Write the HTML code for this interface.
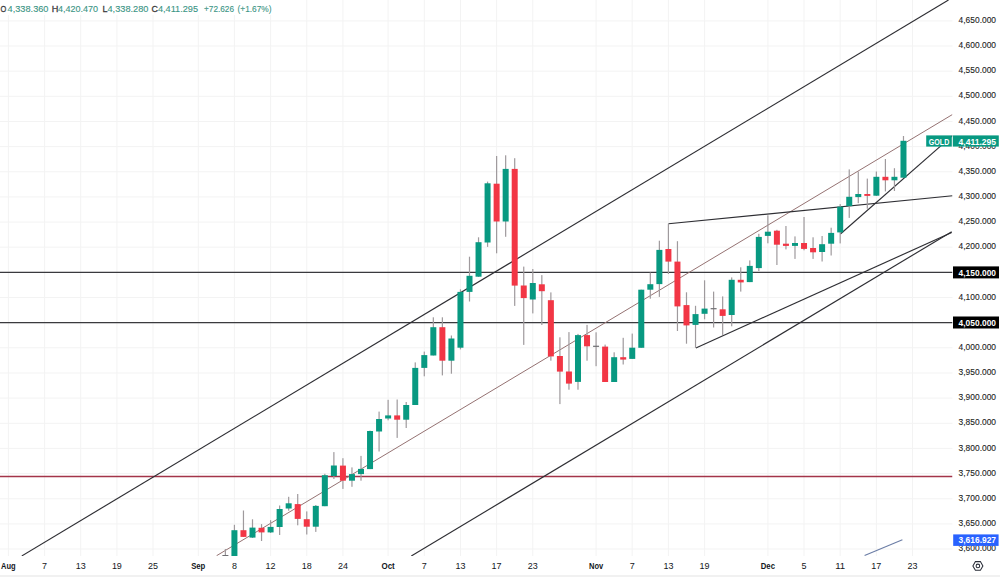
<!DOCTYPE html>
<html><head><meta charset="utf-8"><style>
html,body{margin:0;padding:0;background:#fff;width:1000px;height:577px;overflow:hidden}
svg{display:block}
text{font-family:"Liberation Sans",sans-serif}
</style></head><body>
<svg width="1000" height="577" viewBox="0 0 1000 577">
<rect x="0" y="0" width="1000" height="577" fill="#ffffff"/>
<path d="M8.4 0V556 M44.6 0V556 M80.7 0V556 M116.9 0V556 M153.0 0V556 M198.3 0V556 M234.4 0V556 M270.6 0V556 M306.8 0V556 M342.9 0V556 M388.1 0V556 M424.3 0V556 M460.5 0V556 M496.6 0V556 M532.8 0V556 M596.1 0V556 M632.2 0V556 M668.4 0V556 M704.6 0V556 M767.9 0V556 M804.0 0V556 M840.2 0V556 M876.4 0V556 M912.5 0V556 M0 549.0H952.5 M0 523.9H952.5 M0 498.8H952.5 M0 473.6H952.5 M0 448.4H952.5 M0 423.3H952.5 M0 398.1H952.5 M0 373.0H952.5 M0 347.8H952.5 M0 322.7H952.5 M0 297.5H952.5 M0 272.4H952.5 M0 247.2H952.5 M0 222.1H952.5 M0 196.9H952.5 M0 171.8H952.5 M0 146.6H952.5 M0 121.5H952.5 M0 96.3H952.5 M0 71.2H952.5 M0 46.0H952.5 M0 20.9H952.5" stroke="#f3f3f3" stroke-width="1" fill="none"/>
<defs><clipPath id="pane"><rect x="0" y="0" width="952.5" height="556"/></clipPath></defs>
<g clip-path="url(#pane)">
<path d="M0 272.4H952.5M0 322.6H952.5" stroke="#3a3a3e" stroke-width="1.3" fill="none"/>
<path d="M0 476.5H952.5" stroke="#a33449" stroke-width="1.7" fill="none"/>
<line x1="216.6" y1="555.7" x2="952.3" y2="114.6" stroke="#957272" stroke-width="1.0"/>
<line x1="21.8" y1="555.9" x2="948.5" y2="0.0" stroke="#2e2e33" stroke-width="1.15"/>
<line x1="411.3" y1="556.0" x2="951.7" y2="231.7" stroke="#2e2e33" stroke-width="1.15"/>
<line x1="668.5" y1="223.8" x2="952.5" y2="195.8" stroke="#2e2e33" stroke-width="1.15"/>
<line x1="695.9" y1="347.9" x2="951.7" y2="232.5" stroke="#2e2e33" stroke-width="1.15"/>
<line x1="840.4" y1="234.0" x2="952.5" y2="135.6" stroke="#2e2e33" stroke-width="1.15"/>
<line x1="864.6" y1="555.5" x2="902.4" y2="539.8" stroke="#6b7da6" stroke-width="1.1"/>
<rect x="224.78" y="549.0" width="1.2" height="7.0" fill="#9f9a9d"/><rect x="233.82" y="524.8" width="1.2" height="31.2" fill="#9f9a9d"/><rect x="242.86" y="510.5" width="1.2" height="26.5" fill="#9f9a9d"/><rect x="251.90" y="519.3" width="1.2" height="18.7" fill="#9f9a9d"/><rect x="260.94" y="524.1" width="1.2" height="16.9" fill="#9f9a9d"/><rect x="269.99" y="520.2" width="1.2" height="12.8" fill="#9f9a9d"/><rect x="279.03" y="505.5" width="1.2" height="29.5" fill="#9f9a9d"/><rect x="288.07" y="496.8" width="1.2" height="13.9" fill="#9f9a9d"/><rect x="297.11" y="494.0" width="1.2" height="31.3" fill="#9f9a9d"/><rect x="306.15" y="511.4" width="1.2" height="23.1" fill="#9f9a9d"/><rect x="315.19" y="505.0" width="1.2" height="26.9" fill="#9f9a9d"/><rect x="324.23" y="473.8" width="1.2" height="32.4" fill="#9f9a9d"/><rect x="333.28" y="452.1" width="1.2" height="26.9" fill="#9f9a9d"/><rect x="342.32" y="458.2" width="1.2" height="30.7" fill="#9f9a9d"/><rect x="351.36" y="467.4" width="1.2" height="19.4" fill="#9f9a9d"/><rect x="360.40" y="455.9" width="1.2" height="24.8" fill="#9f9a9d"/><rect x="369.44" y="430.6" width="1.2" height="38.5" fill="#9f9a9d"/><rect x="378.48" y="411.6" width="1.2" height="39.9" fill="#9f9a9d"/><rect x="387.52" y="399.8" width="1.2" height="20.5" fill="#9f9a9d"/><rect x="396.57" y="399.5" width="1.2" height="38.4" fill="#9f9a9d"/><rect x="405.61" y="402.0" width="1.2" height="26.0" fill="#9f9a9d"/><rect x="414.65" y="362.4" width="1.2" height="42.6" fill="#9f9a9d"/><rect x="423.69" y="351.6" width="1.2" height="24.7" fill="#9f9a9d"/><rect x="432.73" y="317.3" width="1.2" height="38.2" fill="#9f9a9d"/><rect x="441.77" y="317.3" width="1.2" height="58.1" fill="#9f9a9d"/><rect x="450.81" y="335.5" width="1.2" height="38.2" fill="#9f9a9d"/><rect x="459.85" y="289.3" width="1.2" height="60.1" fill="#9f9a9d"/><rect x="468.90" y="256.7" width="1.2" height="44.8" fill="#9f9a9d"/><rect x="477.94" y="237.3" width="1.2" height="39.7" fill="#9f9a9d"/><rect x="486.98" y="181.6" width="1.2" height="65.3" fill="#9f9a9d"/><rect x="496.02" y="156.0" width="1.2" height="97.3" fill="#9f9a9d"/><rect x="505.06" y="155.3" width="1.2" height="81.5" fill="#9f9a9d"/><rect x="514.10" y="158.2" width="1.2" height="147.7" fill="#9f9a9d"/><rect x="523.14" y="266.6" width="1.2" height="78.3" fill="#9f9a9d"/><rect x="532.19" y="269.0" width="1.2" height="44.4" fill="#9f9a9d"/><rect x="541.23" y="275.1" width="1.2" height="49.9" fill="#9f9a9d"/><rect x="550.27" y="292.4" width="1.2" height="68.3" fill="#9f9a9d"/><rect x="559.31" y="337.3" width="1.2" height="66.8" fill="#9f9a9d"/><rect x="568.35" y="332.1" width="1.2" height="57.6" fill="#9f9a9d"/><rect x="577.39" y="333.9" width="1.2" height="55.8" fill="#9f9a9d"/><rect x="586.43" y="324.9" width="1.2" height="35.8" fill="#9f9a9d"/><rect x="595.48" y="332.3" width="1.2" height="33.9" fill="#9f9a9d"/><rect x="604.52" y="344.6" width="1.2" height="37.4" fill="#9f9a9d"/><rect x="613.56" y="352.3" width="1.2" height="29.7" fill="#9f9a9d"/><rect x="622.60" y="337.8" width="1.2" height="26.7" fill="#9f9a9d"/><rect x="631.64" y="333.6" width="1.2" height="25.3" fill="#9f9a9d"/><rect x="640.68" y="289.7" width="1.2" height="58.1" fill="#9f9a9d"/><rect x="649.72" y="272.5" width="1.2" height="26.2" fill="#9f9a9d"/><rect x="658.77" y="240.7" width="1.2" height="56.2" fill="#9f9a9d"/><rect x="667.81" y="223.8" width="1.2" height="50.2" fill="#9f9a9d"/><rect x="676.85" y="241.2" width="1.2" height="89.8" fill="#9f9a9d"/><rect x="685.89" y="292.3" width="1.2" height="51.4" fill="#9f9a9d"/><rect x="694.93" y="305.8" width="1.2" height="42.1" fill="#9f9a9d"/><rect x="703.97" y="280.3" width="1.2" height="39.0" fill="#9f9a9d"/><rect x="713.01" y="291.6" width="1.2" height="35.9" fill="#9f9a9d"/><rect x="722.06" y="296.4" width="1.2" height="38.5" fill="#9f9a9d"/><rect x="731.10" y="277.4" width="1.2" height="48.9" fill="#9f9a9d"/><rect x="740.14" y="267.3" width="1.2" height="24.3" fill="#9f9a9d"/><rect x="749.18" y="260.4" width="1.2" height="21.7" fill="#9f9a9d"/><rect x="758.22" y="233.8" width="1.2" height="37.2" fill="#9f9a9d"/><rect x="767.26" y="215.3" width="1.2" height="28.0" fill="#9f9a9d"/><rect x="776.30" y="229.8" width="1.2" height="35.2" fill="#9f9a9d"/><rect x="785.35" y="226.0" width="1.2" height="23.4" fill="#9f9a9d"/><rect x="794.39" y="236.4" width="1.2" height="22.5" fill="#9f9a9d"/><rect x="803.43" y="217.0" width="1.2" height="33.3" fill="#9f9a9d"/><rect x="812.47" y="237.3" width="1.2" height="21.6" fill="#9f9a9d"/><rect x="821.51" y="236.0" width="1.2" height="25.5" fill="#9f9a9d"/><rect x="830.55" y="227.7" width="1.2" height="27.8" fill="#9f9a9d"/><rect x="839.59" y="204.1" width="1.2" height="39.3" fill="#9f9a9d"/><rect x="848.64" y="169.4" width="1.2" height="48.5" fill="#9f9a9d"/><rect x="857.68" y="171.5" width="1.2" height="31.7" fill="#9f9a9d"/><rect x="866.72" y="178.6" width="1.2" height="30.1" fill="#9f9a9d"/><rect x="875.76" y="171.5" width="1.2" height="24.5" fill="#9f9a9d"/><rect x="884.80" y="159.0" width="1.2" height="32.4" fill="#9f9a9d"/><rect x="893.84" y="168.2" width="1.2" height="22.8" fill="#9f9a9d"/><rect x="902.88" y="136.0" width="1.2" height="41.7" fill="#9f9a9d"/>
<rect x="222.38" y="555.0" width="6" height="1.2" fill="#6e6e72"/><rect x="231.42" y="530.2" width="6" height="25.8" fill="#089981"/><rect x="240.46" y="530.2" width="6" height="6.7" fill="#f23645"/><rect x="249.50" y="527.6" width="6" height="10.0" fill="#089981"/><rect x="258.54" y="527.8" width="6" height="4.6" fill="#f23645"/><rect x="267.59" y="526.9" width="6" height="5.5" fill="#089981"/><rect x="276.63" y="509.0" width="6" height="18.0" fill="#089981"/><rect x="285.67" y="503.3" width="6" height="5.2" fill="#089981"/><rect x="294.71" y="504.1" width="6" height="14.8" fill="#f23645"/><rect x="303.75" y="519.2" width="6" height="7.5" fill="#f23645"/><rect x="312.79" y="505.9" width="6" height="20.8" fill="#089981"/><rect x="321.83" y="475.2" width="6" height="31.0" fill="#089981"/><rect x="330.88" y="465.5" width="6" height="10.5" fill="#089981"/><rect x="339.92" y="465.6" width="6" height="15.1" fill="#f23645"/><rect x="348.96" y="474.1" width="6" height="6.6" fill="#089981"/><rect x="358.00" y="468.9" width="6" height="5.2" fill="#089981"/><rect x="367.04" y="431.0" width="6" height="38.1" fill="#089981"/><rect x="376.08" y="419.0" width="6" height="12.5" fill="#089981"/><rect x="385.12" y="415.4" width="6" height="3.1" fill="#089981"/><rect x="394.17" y="415.4" width="6" height="4.3" fill="#f23645"/><rect x="403.21" y="405.0" width="6" height="14.7" fill="#089981"/><rect x="412.25" y="367.9" width="6" height="37.1" fill="#089981"/><rect x="421.29" y="355.1" width="6" height="12.8" fill="#089981"/><rect x="430.33" y="327.2" width="6" height="28.3" fill="#089981"/><rect x="439.37" y="327.2" width="6" height="33.5" fill="#f23645"/><rect x="448.41" y="338.5" width="6" height="22.2" fill="#089981"/><rect x="457.45" y="291.9" width="6" height="55.8" fill="#089981"/><rect x="466.50" y="275.8" width="6" height="16.1" fill="#089981"/><rect x="475.54" y="242.2" width="6" height="34.5" fill="#089981"/><rect x="484.58" y="183.3" width="6" height="59.2" fill="#089981"/><rect x="493.62" y="183.7" width="6" height="37.8" fill="#f23645"/><rect x="502.66" y="168.9" width="6" height="52.6" fill="#089981"/><rect x="511.70" y="168.9" width="6" height="116.7" fill="#f23645"/><rect x="520.74" y="285.5" width="6" height="12.6" fill="#f23645"/><rect x="529.79" y="283.0" width="6" height="16.5" fill="#089981"/><rect x="538.83" y="284.3" width="6" height="6.9" fill="#f23645"/><rect x="547.87" y="300.2" width="6" height="56.2" fill="#f23645"/><rect x="556.91" y="356.0" width="6" height="15.6" fill="#f23645"/><rect x="565.95" y="371.5" width="6" height="12.1" fill="#f23645"/><rect x="574.99" y="335.1" width="6" height="46.8" fill="#089981"/><rect x="584.03" y="335.1" width="6" height="11.2" fill="#f23645"/><rect x="593.08" y="345.7" width="6" height="1.2" fill="#6e6e72"/><rect x="602.12" y="346.6" width="6" height="35.4" fill="#f23645"/><rect x="611.16" y="357.2" width="6" height="24.8" fill="#089981"/><rect x="620.20" y="357.2" width="6" height="2.4" fill="#f23645"/><rect x="629.24" y="347.7" width="6" height="11.2" fill="#089981"/><rect x="638.28" y="289.7" width="6" height="58.1" fill="#089981"/><rect x="647.32" y="284.2" width="6" height="5.5" fill="#089981"/><rect x="656.37" y="249.9" width="6" height="34.2" fill="#089981"/><rect x="665.41" y="249.0" width="6" height="12.6" fill="#f23645"/><rect x="674.45" y="261.6" width="6" height="44.8" fill="#f23645"/><rect x="683.49" y="305.1" width="6" height="20.3" fill="#f23645"/><rect x="692.53" y="314.1" width="6" height="10.8" fill="#089981"/><rect x="701.57" y="308.6" width="6" height="5.2" fill="#089981"/><rect x="710.61" y="308.1" width="6" height="1.2" fill="#6e6e72"/><rect x="719.66" y="309.3" width="6" height="6.6" fill="#f23645"/><rect x="728.70" y="279.8" width="6" height="35.2" fill="#089981"/><rect x="737.74" y="279.8" width="6" height="2.6" fill="#f23645"/><rect x="746.78" y="265.9" width="6" height="16.2" fill="#089981"/><rect x="755.82" y="236.9" width="6" height="31.2" fill="#089981"/><rect x="764.86" y="231.7" width="6" height="4.2" fill="#089981"/><rect x="773.90" y="230.7" width="6" height="14.0" fill="#f23645"/><rect x="782.95" y="243.7" width="6" height="2.2" fill="#f23645"/><rect x="791.99" y="243.0" width="6" height="2.9" fill="#089981"/><rect x="801.03" y="243.0" width="6" height="5.9" fill="#f23645"/><rect x="810.07" y="248.0" width="6" height="4.3" fill="#f23645"/><rect x="819.11" y="244.2" width="6" height="7.8" fill="#089981"/><rect x="828.15" y="232.9" width="6" height="10.8" fill="#089981"/><rect x="837.19" y="206.7" width="6" height="25.7" fill="#089981"/><rect x="846.24" y="196.8" width="6" height="9.3" fill="#089981"/><rect x="855.28" y="194.0" width="6" height="3.1" fill="#089981"/><rect x="864.32" y="194.0" width="6" height="1.9" fill="#f23645"/><rect x="873.36" y="176.8" width="6" height="18.9" fill="#089981"/><rect x="882.40" y="176.8" width="6" height="3.5" fill="#f23645"/><rect x="891.44" y="176.8" width="6" height="3.5" fill="#089981"/><rect x="900.48" y="140.8" width="6" height="36.9" fill="#089981"/>
</g>
<text x="958.60" y="551.15" font-size="9.7" fill="#1e1f24" font-weight="normal" text-anchor="start" textLength="37.4" lengthAdjust="spacingAndGlyphs" stroke="#1e1f24" stroke-width="0.12">3,600.000</text>
<text x="958.60" y="526.00" font-size="9.7" fill="#1e1f24" font-weight="normal" text-anchor="start" textLength="37.4" lengthAdjust="spacingAndGlyphs" stroke="#1e1f24" stroke-width="0.12">3,650.000</text>
<text x="958.60" y="500.85" font-size="9.7" fill="#1e1f24" font-weight="normal" text-anchor="start" textLength="37.4" lengthAdjust="spacingAndGlyphs" stroke="#1e1f24" stroke-width="0.12">3,700.000</text>
<text x="958.60" y="475.70" font-size="9.7" fill="#1e1f24" font-weight="normal" text-anchor="start" textLength="37.4" lengthAdjust="spacingAndGlyphs" stroke="#1e1f24" stroke-width="0.12">3,750.000</text>
<text x="958.60" y="450.55" font-size="9.7" fill="#1e1f24" font-weight="normal" text-anchor="start" textLength="37.4" lengthAdjust="spacingAndGlyphs" stroke="#1e1f24" stroke-width="0.12">3,800.000</text>
<text x="958.60" y="425.40" font-size="9.7" fill="#1e1f24" font-weight="normal" text-anchor="start" textLength="37.4" lengthAdjust="spacingAndGlyphs" stroke="#1e1f24" stroke-width="0.12">3,850.000</text>
<text x="958.60" y="400.25" font-size="9.7" fill="#1e1f24" font-weight="normal" text-anchor="start" textLength="37.4" lengthAdjust="spacingAndGlyphs" stroke="#1e1f24" stroke-width="0.12">3,900.000</text>
<text x="958.60" y="375.10" font-size="9.7" fill="#1e1f24" font-weight="normal" text-anchor="start" textLength="37.4" lengthAdjust="spacingAndGlyphs" stroke="#1e1f24" stroke-width="0.12">3,950.000</text>
<text x="958.60" y="349.95" font-size="9.7" fill="#1e1f24" font-weight="normal" text-anchor="start" textLength="37.4" lengthAdjust="spacingAndGlyphs" stroke="#1e1f24" stroke-width="0.12">4,000.000</text>
<text x="958.60" y="299.65" font-size="9.7" fill="#1e1f24" font-weight="normal" text-anchor="start" textLength="37.4" lengthAdjust="spacingAndGlyphs" stroke="#1e1f24" stroke-width="0.12">4,100.000</text>
<text x="958.60" y="249.35" font-size="9.7" fill="#1e1f24" font-weight="normal" text-anchor="start" textLength="37.4" lengthAdjust="spacingAndGlyphs" stroke="#1e1f24" stroke-width="0.12">4,200.000</text>
<text x="958.60" y="224.20" font-size="9.7" fill="#1e1f24" font-weight="normal" text-anchor="start" textLength="37.4" lengthAdjust="spacingAndGlyphs" stroke="#1e1f24" stroke-width="0.12">4,250.000</text>
<text x="958.60" y="199.05" font-size="9.7" fill="#1e1f24" font-weight="normal" text-anchor="start" textLength="37.4" lengthAdjust="spacingAndGlyphs" stroke="#1e1f24" stroke-width="0.12">4,300.000</text>
<text x="958.60" y="173.90" font-size="9.7" fill="#1e1f24" font-weight="normal" text-anchor="start" textLength="37.4" lengthAdjust="spacingAndGlyphs" stroke="#1e1f24" stroke-width="0.12">4,350.000</text>
<text x="958.60" y="148.75" font-size="9.7" fill="#1e1f24" font-weight="normal" text-anchor="start" textLength="37.4" lengthAdjust="spacingAndGlyphs" stroke="#1e1f24" stroke-width="0.12">4,400.000</text>
<text x="958.60" y="123.60" font-size="9.7" fill="#1e1f24" font-weight="normal" text-anchor="start" textLength="37.4" lengthAdjust="spacingAndGlyphs" stroke="#1e1f24" stroke-width="0.12">4,450.000</text>
<text x="958.60" y="98.45" font-size="9.7" fill="#1e1f24" font-weight="normal" text-anchor="start" textLength="37.4" lengthAdjust="spacingAndGlyphs" stroke="#1e1f24" stroke-width="0.12">4,500.000</text>
<text x="958.60" y="73.30" font-size="9.7" fill="#1e1f24" font-weight="normal" text-anchor="start" textLength="37.4" lengthAdjust="spacingAndGlyphs" stroke="#1e1f24" stroke-width="0.12">4,550.000</text>
<text x="958.60" y="48.15" font-size="9.7" fill="#1e1f24" font-weight="normal" text-anchor="start" textLength="37.4" lengthAdjust="spacingAndGlyphs" stroke="#1e1f24" stroke-width="0.12">4,600.000</text>
<text x="958.60" y="23.00" font-size="9.7" fill="#1e1f24" font-weight="normal" text-anchor="start" textLength="37.4" lengthAdjust="spacingAndGlyphs" stroke="#1e1f24" stroke-width="0.12">4,650.000</text>
<rect x="953" y="266.4" width="46" height="12" fill="#000"/>
<text x="958.60" y="275.80" font-size="9.7" fill="#fff" font-weight="bold" text-anchor="start" textLength="37.4" lengthAdjust="spacingAndGlyphs">4,150.000</text>
<rect x="953" y="316.5" width="46" height="12" fill="#000"/>
<text x="958.60" y="326.10" font-size="9.7" fill="#fff" font-weight="bold" text-anchor="start" textLength="37.4" lengthAdjust="spacingAndGlyphs">4,050.000</text>
<rect x="926.2" y="135.4" width="25.6" height="11.2" fill="#089981"/>
<text x="928.80" y="144.60" font-size="9.7" fill="#fff" font-weight="bold" text-anchor="start" textLength="20.5" lengthAdjust="spacingAndGlyphs">GOLD</text>
<rect x="952.8" y="135.4" width="46" height="11.2" fill="#089981"/>
<text x="958.60" y="144.60" font-size="9.7" fill="#fff" font-weight="bold" text-anchor="start" textLength="37.4" lengthAdjust="spacingAndGlyphs">4,411.295</text>
<rect x="953.2" y="534.4" width="45.4" height="11.5" fill="#2962ff"/>
<text x="958.60" y="543.20" font-size="9.7" fill="#fff" font-weight="bold" text-anchor="start" textLength="37.4" lengthAdjust="spacingAndGlyphs">3,616.927</text>
<text x="1.08" y="568.50" font-size="9.0" fill="#131722" font-weight="bold" text-anchor="start" textLength="14.6" lengthAdjust="spacingAndGlyphs">Aug</text>
<text x="42.05" y="568.50" font-size="9.0" fill="#131722" font-weight="normal" text-anchor="start" textLength="5.0" lengthAdjust="spacingAndGlyphs">7</text>
<text x="75.72" y="568.50" font-size="9.0" fill="#131722" font-weight="normal" text-anchor="start" textLength="10.0" lengthAdjust="spacingAndGlyphs">13</text>
<text x="111.88" y="568.50" font-size="9.0" fill="#131722" font-weight="normal" text-anchor="start" textLength="10.0" lengthAdjust="spacingAndGlyphs">19</text>
<text x="148.05" y="568.50" font-size="9.0" fill="#131722" font-weight="normal" text-anchor="start" textLength="10.0" lengthAdjust="spacingAndGlyphs">25</text>
<text x="191.15" y="568.50" font-size="9.0" fill="#131722" font-weight="bold" text-anchor="start" textLength="14.2" lengthAdjust="spacingAndGlyphs">Sep</text>
<text x="231.92" y="568.50" font-size="9.0" fill="#131722" font-weight="normal" text-anchor="start" textLength="5.0" lengthAdjust="spacingAndGlyphs">8</text>
<text x="265.59" y="568.50" font-size="9.0" fill="#131722" font-weight="normal" text-anchor="start" textLength="10.0" lengthAdjust="spacingAndGlyphs">12</text>
<text x="301.75" y="568.50" font-size="9.0" fill="#131722" font-weight="normal" text-anchor="start" textLength="10.0" lengthAdjust="spacingAndGlyphs">18</text>
<text x="337.92" y="568.50" font-size="9.0" fill="#131722" font-weight="normal" text-anchor="start" textLength="10.0" lengthAdjust="spacingAndGlyphs">24</text>
<text x="381.47" y="568.50" font-size="9.0" fill="#131722" font-weight="bold" text-anchor="start" textLength="13.3" lengthAdjust="spacingAndGlyphs">Oct</text>
<text x="421.79" y="568.50" font-size="9.0" fill="#131722" font-weight="normal" text-anchor="start" textLength="5.0" lengthAdjust="spacingAndGlyphs">7</text>
<text x="455.45" y="568.50" font-size="9.0" fill="#131722" font-weight="normal" text-anchor="start" textLength="10.0" lengthAdjust="spacingAndGlyphs">13</text>
<text x="491.62" y="568.50" font-size="9.0" fill="#131722" font-weight="normal" text-anchor="start" textLength="10.0" lengthAdjust="spacingAndGlyphs">17</text>
<text x="527.79" y="568.50" font-size="9.0" fill="#131722" font-weight="normal" text-anchor="start" textLength="10.0" lengthAdjust="spacingAndGlyphs">23</text>
<text x="588.98" y="568.50" font-size="9.0" fill="#131722" font-weight="bold" text-anchor="start" textLength="14.2" lengthAdjust="spacingAndGlyphs">Nov</text>
<text x="629.74" y="568.50" font-size="9.0" fill="#131722" font-weight="normal" text-anchor="start" textLength="5.0" lengthAdjust="spacingAndGlyphs">7</text>
<text x="663.41" y="568.50" font-size="9.0" fill="#131722" font-weight="normal" text-anchor="start" textLength="10.0" lengthAdjust="spacingAndGlyphs">13</text>
<text x="699.57" y="568.50" font-size="9.0" fill="#131722" font-weight="normal" text-anchor="start" textLength="10.0" lengthAdjust="spacingAndGlyphs">19</text>
<text x="760.76" y="568.50" font-size="9.0" fill="#131722" font-weight="bold" text-anchor="start" textLength="14.2" lengthAdjust="spacingAndGlyphs">Dec</text>
<text x="801.53" y="568.50" font-size="9.0" fill="#131722" font-weight="normal" text-anchor="start" textLength="5.0" lengthAdjust="spacingAndGlyphs">5</text>
<text x="835.19" y="568.50" font-size="9.0" fill="#131722" font-weight="normal" text-anchor="start" textLength="10.0" lengthAdjust="spacingAndGlyphs">11</text>
<text x="871.36" y="568.50" font-size="9.0" fill="#131722" font-weight="normal" text-anchor="start" textLength="10.0" lengthAdjust="spacingAndGlyphs">17</text>
<text x="907.52" y="568.50" font-size="9.0" fill="#131722" font-weight="normal" text-anchor="start" textLength="10.0" lengthAdjust="spacingAndGlyphs">23</text>
<g transform="translate(977.9,565.9)" fill="none" stroke="#2a2e39" stroke-width="1.05">
<path d="M-5 0L-2.5 -4.3H2.5L5 0L2.5 4.3H-2.5Z"/><circle r="1.8"/>
</g>
<rect x="0" y="575" width="1000" height="2" fill="#f1f1f1"/>
<rect x="0" y="0" width="275" height="15" fill="#fff"/>
<text x="0.40" y="11.80" font-size="9.6" fill="#3a3a3c" font-weight="normal" text-anchor="start" textLength="5.8" lengthAdjust="spacingAndGlyphs" stroke="#3a3a3c" stroke-width="0.3">O</text><text x="7.60" y="11.80" font-size="9.8" fill="#3a9484" font-weight="normal" text-anchor="start" textLength="40.9" lengthAdjust="spacingAndGlyphs" stroke="#3a9484" stroke-width="0.12">4,338.360</text><text x="51.80" y="11.80" font-size="9.6" fill="#3a3a3c" font-weight="normal" text-anchor="start" textLength="6.6" lengthAdjust="spacingAndGlyphs" stroke="#3a3a3c" stroke-width="0.3">H</text><text x="58.00" y="11.80" font-size="9.8" fill="#3a9484" font-weight="normal" text-anchor="start" textLength="40.0" lengthAdjust="spacingAndGlyphs" stroke="#3a9484" stroke-width="0.12">4,420.470</text><text x="102.60" y="11.80" font-size="9.6" fill="#3a3a3c" font-weight="normal" text-anchor="start" textLength="5.0" lengthAdjust="spacingAndGlyphs" stroke="#3a3a3c" stroke-width="0.3">L</text><text x="107.50" y="11.80" font-size="9.8" fill="#3a9484" font-weight="normal" text-anchor="start" textLength="41.0" lengthAdjust="spacingAndGlyphs" stroke="#3a9484" stroke-width="0.12">4,338.280</text><text x="151.60" y="11.80" font-size="9.6" fill="#3a3a3c" font-weight="normal" text-anchor="start" textLength="6.4" lengthAdjust="spacingAndGlyphs" stroke="#3a3a3c" stroke-width="0.3">C</text><text x="157.90" y="11.80" font-size="9.8" fill="#3a9484" font-weight="normal" text-anchor="start" textLength="40.2" lengthAdjust="spacingAndGlyphs" stroke="#3a9484" stroke-width="0.12">4,411.295</text><text x="204.00" y="11.80" font-size="9.8" fill="#3a9484" font-weight="normal" text-anchor="start" textLength="30.0" lengthAdjust="spacingAndGlyphs" stroke="#3a9484" stroke-width="0.12">+72.626</text><text x="237.50" y="11.80" font-size="9.8" fill="#3a9484" font-weight="normal" text-anchor="start" textLength="34.0" lengthAdjust="spacingAndGlyphs" stroke="#3a9484" stroke-width="0.12">(+1.67%)</text>
</svg>
</body></html>
